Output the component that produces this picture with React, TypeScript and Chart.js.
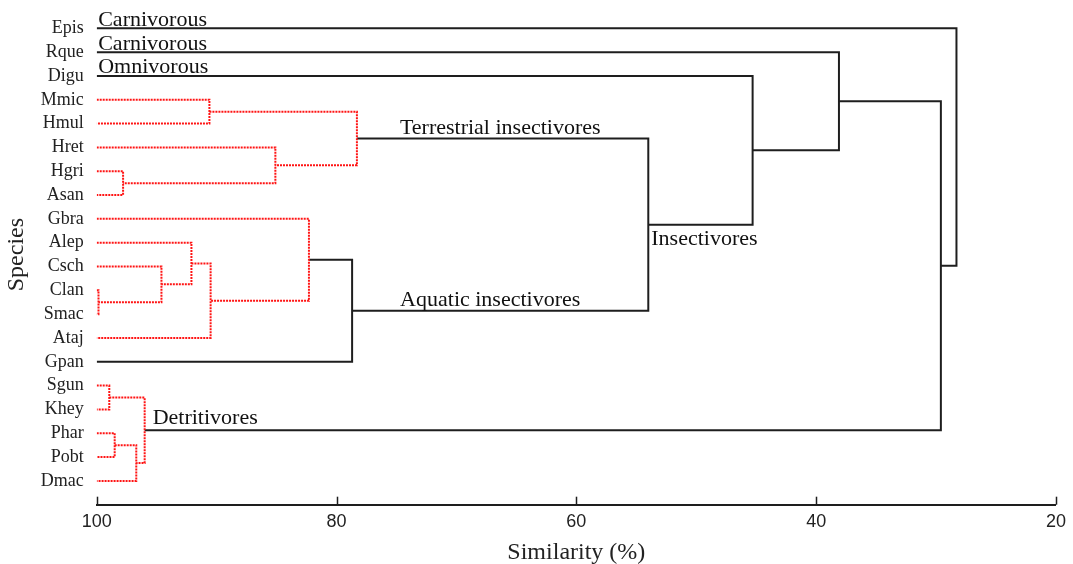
import React, { useEffect, useRef } from 'react';
import { Chart, registerables } from 'chart.js';

Chart.register(...registerables);

// ---- data ----
const species = ['Epis', 'Rque', 'Digu', 'Mmic', 'Hmul', 'Hret', 'Hgri', 'Asan', 'Gbra', 'Alep', 'Csch', 'Clan', 'Smac', 'Ataj', 'Gpan', 'Sgun', 'Khey', 'Phar', 'Pobt', 'Dmac'];

// merge i joins mergeFirst[i] and mergeSecond[i] (species or earlier merge "m<k>") at mergeSimilarity[i]
const mergeFirst = ['Mmic', 'Hgri', 'Hret', 'm0', 'Clan', 'Csch', 'Alep', 'm6', 'Gbra', 'm8', 'm3', 'Digu', 'Rque', 'Sgun', 'Phar', 'm14', 'm13', 'm12', 'Epis'];
const mergeSecond = ['Hmul', 'Asan', 'm1', 'm2', 'Smac', 'm4', 'm5', 'Ataj', 'm7', 'Gpan', 'm9', 'm10', 'm11', 'Khey', 'Pobt', 'Dmac', 'm15', 'm16', 'm17'];
const mergeSimilarity = [90.6, 97.8, 85.1, 78.3, 99.85, 94.6, 92.1, 90.5, 82.3, 78.7, 54.0, 45.3, 38.1, 98.95, 98.5, 96.7, 96.0, 29.6, 28.3];
const mergeWithinGroup = [true, true, true, true, true, true, true, true, true, false, false, false, false, true, true, true, true, false, false];

const similarityTicks = [100, 80, 60, 40, 20];

const groupLabels = ['Carnivorous', 'Carnivorous', 'Omnivorous', 'Terrestrial insectivores', 'Aquatic insectivores', 'Insectivores', 'Detritivores'];
const groupAnchors = ['Epis', 'Rque', 'Digu', 'm3', 'm9', 'm10', 'm16'];

// ---- styling ----
const SERIF = "'Liberation Serif', 'Times New Roman', serif";
const SANS = "'Liberation Sans', Arial, sans-serif";
const INK = '#1e1e1e';
const RED = '#ff1414';

// pixel offsets of each group label relative to its anchor branch
const labelOffsets: Record<string, { dx: number; dy: number }> = {
  Epis: { dx: 1.5, dy: -2.5 },
  Rque: { dx: 1.5, dy: -2.5 },
  Digu: { dx: 1.5, dy: -3 },
  m3: { dx: 43, dy: -4.5 },
  m9: { dx: 48, dy: -5 },
  m10: { dx: 3, dy: 20 },
  m16: { dx: 8, dy: -6.5 },
};

function buildTree() {
  const pos: Record<string, { x: number; y: number }> = {};
  species.forEach((s, i) => {
    pos[s] = { x: 100, y: i };
  });
  const datasets: any[] = [];
  mergeSimilarity.forEach((h, i) => {
    const a = pos[mergeFirst[i]];
    const b = pos[mergeSecond[i]];
    pos['m' + i] = { x: h, y: (a.y + b.y) / 2 };
    const red = mergeWithinGroup[i];
    datasets.push({
      data: [
        { x: a.x, y: a.y },
        { x: h, y: a.y },
        { x: h, y: b.y },
        { x: b.x, y: b.y },
      ],
      showLine: true,
      borderColor: red ? RED : INK,
      borderWidth: 2,
      borderDash: red ? [2, 1] : [],
      borderCapStyle: 'butt',
      borderJoinStyle: 'miter',
      pointRadius: 0,
      pointHoverRadius: 0,
      fill: false,
      tension: 0,
    });
  });
  return { pos, datasets };
}

export default function App() {
  const canvasRef = useRef<HTMLCanvasElement | null>(null);

  useEffect(() => {
    const canvas = canvasRef.current;
    if (!canvas) return;
    const { pos, datasets } = buildTree();

    const decorations = {
      id: 'decorations',
      afterDraw(chart: any) {
        const ctx = chart.ctx;
        const xs = chart.scales.x;
        const ys = chart.scales.y;
        const bottom = chart.chartArea.bottom;
        ctx.save();
        // inward tick marks
        ctx.strokeStyle = INK;
        ctx.lineWidth = 1.5;
        similarityTicks.forEach((v) => {
          const px = Math.round(xs.getPixelForValue(v)) + 0.5;
          ctx.beginPath();
          ctx.moveTo(px, bottom);
          ctx.lineTo(px, bottom - 8);
          ctx.stroke();
        });
        // group labels
        ctx.fillStyle = '#111';
        ctx.font = `22px ${SERIF}`;
        ctx.textAlign = 'left';
        ctx.textBaseline = 'alphabetic';
        groupLabels.forEach((t, i) => {
          const key = groupAnchors[i];
          const p = pos[key];
          const off = labelOffsets[key];
          const px = xs.getPixelForValue(p.x) + off.dx;
          const py = ys.getPixelForValue(p.y) + off.dy;
          ctx.fillText(t, px, py);
        });
        ctx.restore();
      },
    };

    const chart = new Chart(canvas, {
      type: 'scatter',
      data: { datasets },
      options: {
        responsive: false,
        animation: false,
        events: [],
        layout: { padding: { top: 4.5, right: 15.3, left: 0, bottom: 0 } },
        plugins: {
          legend: { display: false },
          tooltip: { enabled: false },
        },
        scales: {
          x: {
            type: 'linear',
            reverse: true,
            min: 20,
            max: 100,
            position: 'bottom',
            afterBuildTicks: (s: any) => {
              s.ticks = similarityTicks.map((v) => ({ value: v }));
            },
            ticks: {
              font: { family: SANS, size: 18 },
              color: '#222',
              padding: 7,
              maxRotation: 0,
              autoSkip: false,
            },
            grid: { display: false, drawTicks: false },
            border: { display: true, color: INK, width: 2 },
            title: {
              display: true,
              text: 'Similarity (%)',
              font: { family: SERIF, size: 24 },
              color: '#222',
              padding: { top: 0, bottom: -3 },
            },
            afterFit: (s: any) => {
              s.height = 59.3;
            },
          },
          y: {
            type: 'linear',
            reverse: true,
            min: -1,
            max: 20,
            afterBuildTicks: (s: any) => {
              s.ticks = species.map((_, i) => ({ value: i }));
            },
            ticks: {
              autoSkip: false,
              callback: (v: any) => species[v as number] ?? '',
              font: { family: SERIF, size: 18 },
              color: '#222',
              padding: 13,
            },
            grid: { display: false, drawTicks: false },
            border: { display: false },
            title: {
              display: true,
              text: 'Species',
              font: { family: SERIF, size: 24 },
              color: '#222',
              padding: { top: 2.5, bottom: 0 },
            },
            afterFit: (s: any) => {
              s.width = 96.7;
              s.paddingTop = 0;
              s.paddingBottom = 0;
            },
          },
        },
      },
      plugins: [decorations],
    });

    return () => {
      chart.destroy();
    };
  }, []);

  return (
    <div style={{ position: 'fixed', left: 0, top: 0, width: 1073, height: 564, background: '#fff' }}>
      <canvas ref={canvasRef} width={1073} height={564} style={{ display: 'block' }} />
    </div>
  );
}
